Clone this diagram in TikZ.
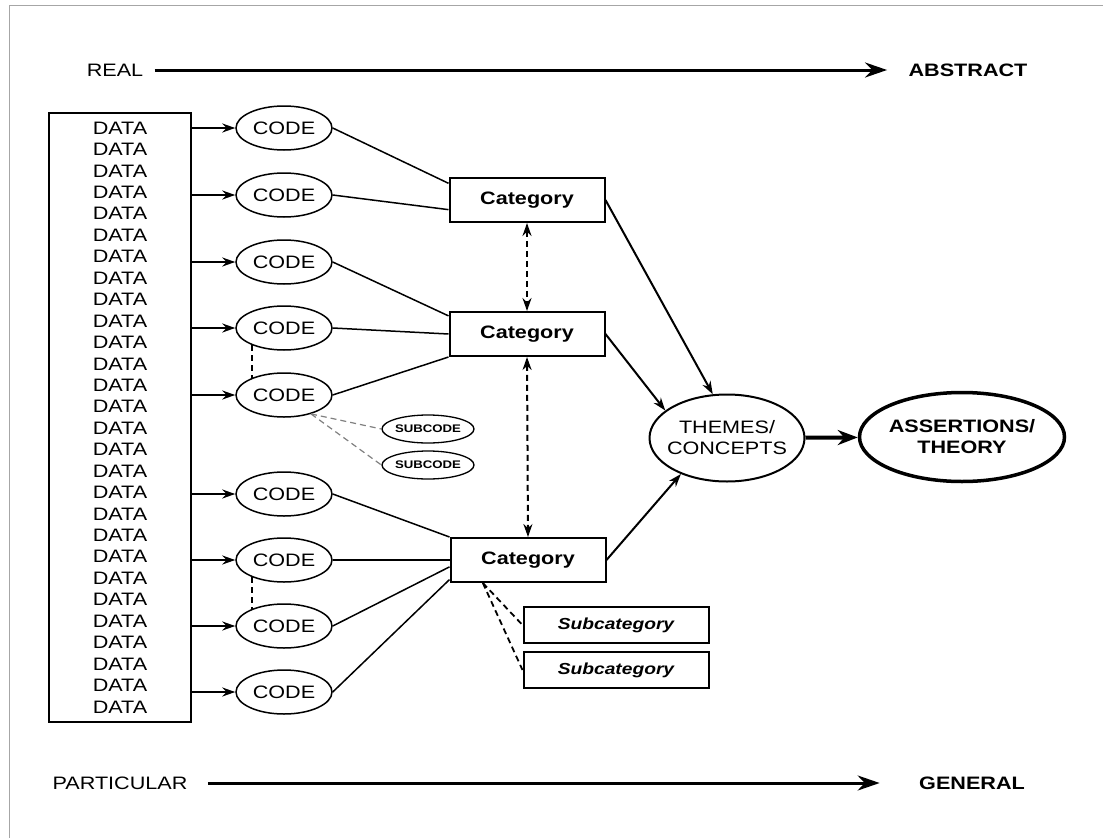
\documentclass[tikz,border=0pt]{standalone}
\usepackage{fontspec}
\setmainfont{Liberation Sans}[FakeStretch=1.2]
\usepackage{tikz}
\usetikzlibrary{arrows.meta, shapes.geometric}

\begin{document}
\begin{tikzpicture}[x=1pt, y=-1pt, >={Stealth[length=13pt, width=9pt]},
    every node/.style={font=\fontsize{18}{21}\selectfont},
    databox/.style={draw, line width=2pt, minimum width=142pt, minimum height=609pt},
    codenode/.style={draw, ellipse, line width=1.5pt, minimum width=96pt, minimum height=44pt, inner sep=0pt},
    subcodenode/.style={draw, ellipse, line width=1.3pt, minimum width=92pt, minimum height=28pt, inner xsep=-3pt, inner ysep=0pt, font=\fontsize{11}{13}\selectfont\bfseries},
    catnode/.style={draw, line width=2pt, minimum width=155pt, minimum height=44pt, font=\fontsize{18}{21}\selectfont\bfseries},
    subcatnode/.style={draw, line width=2pt, minimum width=185pt, minimum height=36pt, font=\fontsize{16}{19}\selectfont\bfseries\itshape},
    feed/.style={->, line width=2pt},
    link/.style={line width=1.5pt},
    dashlink/.style={line width=1.8pt, dash pattern=on 6pt off 4pt},
    axis/.style={-{Stealth[length=22pt, width=15pt]}, line width=3pt}]
    \useasboundingbox (0,0) rectangle (1103,838);
    % Frame
    \draw[gray!70, line width=1pt] (9,838) -- (9,5) -- (1103,5);
    % Real -> Abstract
    \node (real) at (115,70) {REAL};
    \node[font=\fontsize{18}{21}\selectfont\bfseries] (abstract) at (968,70) {ABSTRACT};
    \draw[axis, shorten <=8pt, shorten >=18pt] (real) -- (abstract);
%
    % Data column
    \node[databox] (data) at (120,417.5) {};
    \foreach \i in {0,...,27}
        \node (data\i) at (120,{128+21.44*\i}) {DATA};
%
    % Codes
    \foreach \n/\y in {1/128,2/195,3/262,4/328,5/395,6/494,7/560,8/626,9/692} {
        \node[codenode] (code\n) at (284,\y) {CODE};
        \draw[feed] (data.east |- code\n) -- (code\n.west);
    }
    \draw[dashlink] (code4.208) -- (code5.152);
    \draw[dashlink] (code7.208) -- (code8.152);
%
    % Subcodes
    \node[subcodenode] (subcode1) at (428,429) {SUBCODE};
    \node[subcodenode] (subcode2) at (428,465) {SUBCODE};
    \draw[gray, line width=1.2pt, dash pattern=on 6pt off 4pt] (code5.-35) -- (subcode1.west);
    \draw[gray, line width=1.2pt, dash pattern=on 6pt off 4pt] (code5.-35) -- (subcode2.west);
%
    % Categories
    \node[catnode] (cat1) at (527,200) {Category};
    \node[catnode] (cat2) at (527,334) {Category};
    \node[catnode] (cat3) at (528,560) {Category};
    \draw[link] (code1.east) -- (cat1.168);
    \draw[link] (code2.east) -- (cat1.187);
    \draw[link] (code3.east) -- (cat2.167);
    \draw[link] (code4.east) -- (cat2.west);
    \draw[link] (code5.east) -- (cat2.south west);
    \draw[link] (code6.east) -- (cat3.north west);
    \draw[link] (code7.east) -- (cat3.west);
    \draw[link] (code8.east) -- (cat3.185);
    \draw[link] (code9.east) -- (cat3.194);
    \draw[<->, dashlink, line width=2pt] (cat1.south) -- (cat2.north);
    \draw[<->, dashlink, line width=2pt] (cat2.south) -- (cat3.north);
%
    % Subcategories
    \node[subcatnode] (subcat1) at (616,625) {Subcategory};
    \node[subcatnode] (subcat2) at (616,670) {Subcategory};
    \draw[dashlink] (cat3.207) -- (subcat1.west);
    \draw[dashlink] (cat3.207) -- (subcat2.west);
%
    % Themes and theory
    \node[draw, ellipse, line width=2pt, minimum width=155pt, minimum height=87pt, inner xsep=-6pt, align=center] (themes) at (727,438) {THEMES/\\CONCEPTS};
    \node[draw, ellipse, line width=3.5pt, minimum width=205pt, minimum height=89pt, inner xsep=-4pt, align=center, font=\fontsize{18}{21}\selectfont\bfseries] (theory) at (962,437) {ASSERTIONS/\\THEORY};
    \draw[feed] (cat1.east) -- (themes.108);
    \draw[feed] (cat2.east) -- (themes.156);
    \draw[feed] (cat3.east) -- (themes.218);
    \draw[-{Stealth[length=20pt, width=15pt]}, line width=4pt] (themes) -- (theory);
%
    % Particular -> General
    \node (particular) at (120,783) {PARTICULAR};
    \node[font=\fontsize{18}{21}\selectfont\bfseries] (general) at (972,783) {GENERAL};
    \draw[axis, shorten <=17pt, shorten >=36pt] (particular) -- (general);
\end{tikzpicture}
\end{document}
